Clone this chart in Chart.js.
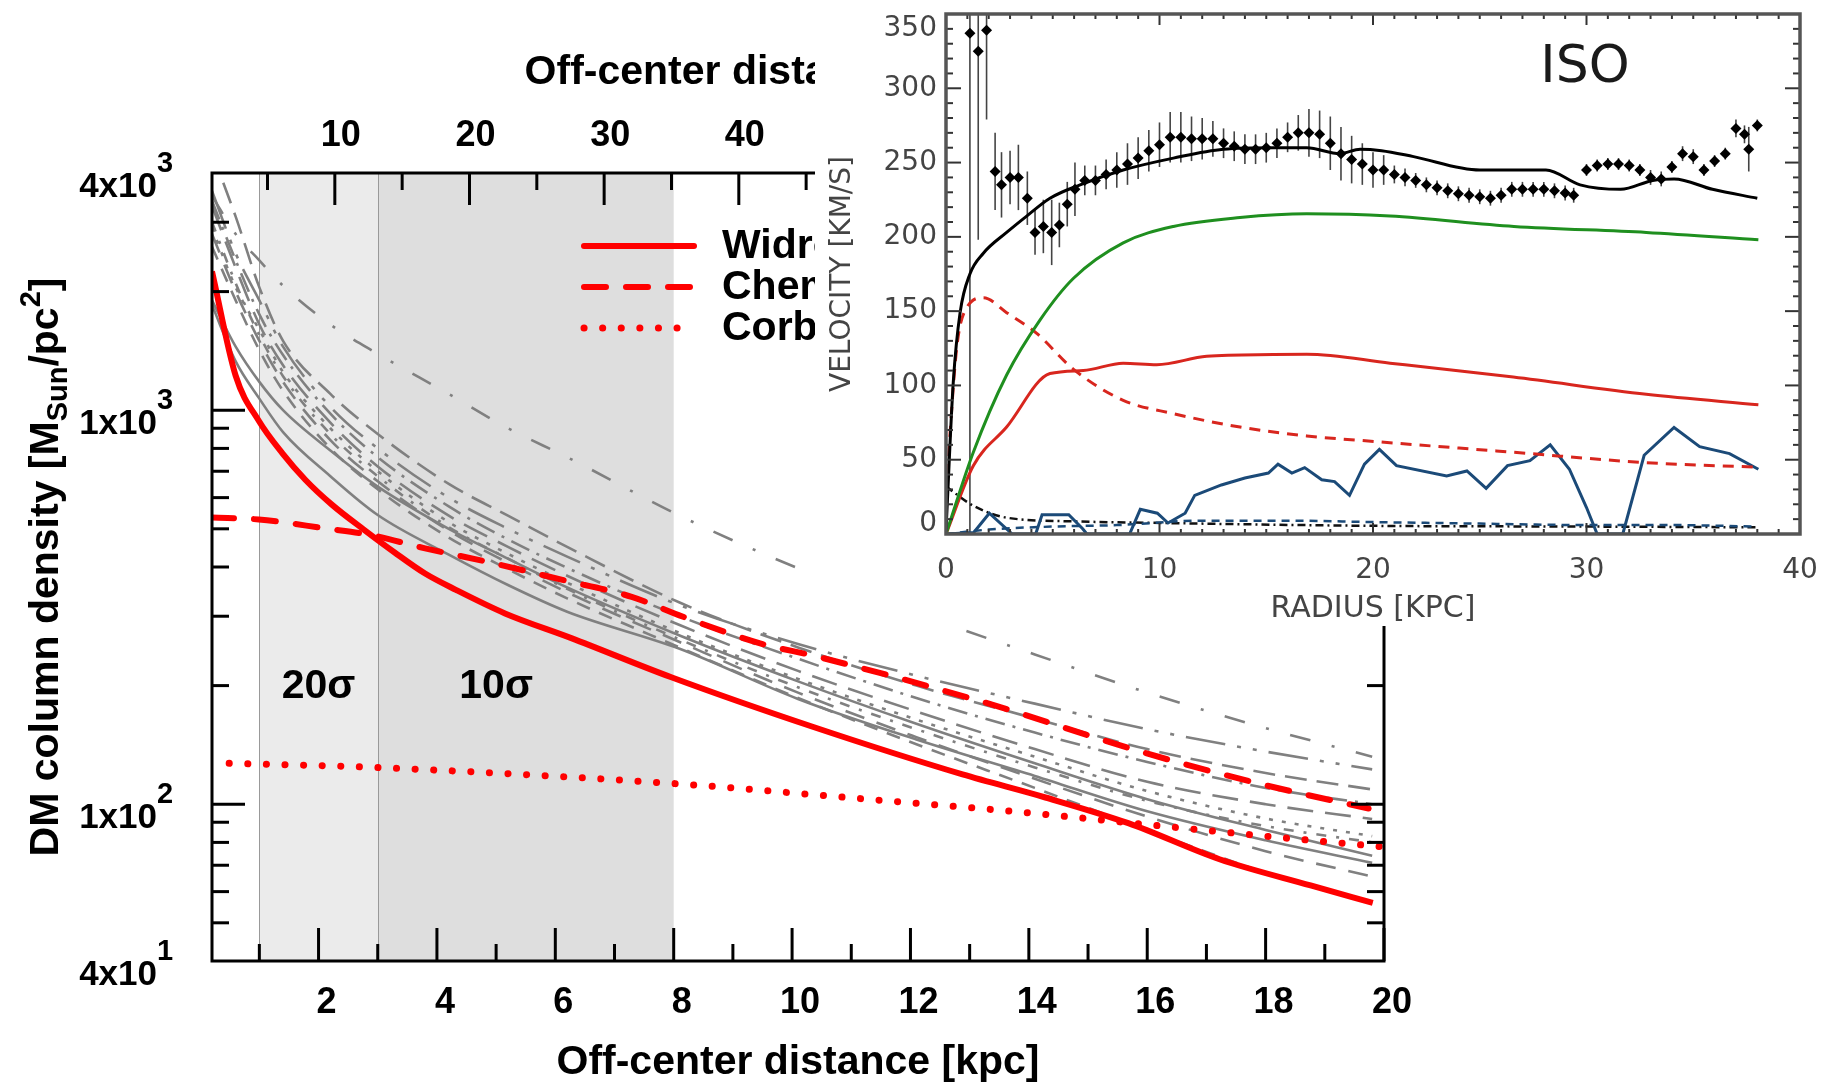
<!DOCTYPE html>
<html>
<head>
<meta charset="utf-8">
<script src="https://cdn.jsdelivr.net/npm/chart.js@4.4.0/dist/chart.umd.min.js"></script>
<style>
html, body { margin: 0; padding: 0; background: #fff; }
#wrap { position: relative; width: 1836px; height: 1087px; overflow: hidden; }
#main { position: absolute; left: 0; top: 0; }
#inset { position: absolute; left: 815px; top: 0; background: #fff; }
</style>
</head>
<body>
<div id="wrap">
<canvas id="main" width="1836" height="1087"></canvas>
<canvas id="inset" width="1021" height="626"></canvas>
</div>
<script>
// ---------- main panel: DM column density ----------
const FONT = "'Liberation Sans', Arial, Helvetica, sans-serif";
const ARCMIN_KPC = 0.2275; // 1 arcmin in kpc

// Widrow (red solid)
const widrowX = [0.2, 0.6, 0.99, 1.39, 1.78, 2.23, 2.77, 3.28, 3.8, 4.32, 5.15, 6.27, 7.96, 10.36, 12.88, 14.28, 15.68, 17.22, 18.76, 19.81];
const widrowY = [2250, 1223, 940, 777, 665, 575, 497, 436, 385, 350, 305, 264, 210, 157, 119, 104, 89.5, 72.5, 62.2, 56.2];
// Chemin (red dashed)
const cheminX = [0.2, 0.99, 2.12, 2.89, 3.8, 4.83, 6.12, 7.29, 8.16, 9.46, 10.42, 13.16, 15.96, 17.92, 19.74];
const cheminY = [534, 528, 501, 482, 446, 413, 371, 336, 299, 256, 237, 183, 135, 112.5, 97.5];
// Corbelli (red dotted)
const corbelliX = [0.49, 2.93, 7.98, 11.06, 13.86, 15.96, 18.06, 20];
const corbelliY = [127, 124, 112.9, 103.6, 95.5, 88.9, 82.8, 77.9];

// grey model curves, all sampled at modelX
const modelX = [0.2, 0.6, 1, 1.4, 2.2, 3, 4.2, 5.2, 6.2, 8.1, 10.1, 12.1, 14.1, 16, 18, 19.8];
const grayCurves = [
  [3500, 2800, 2400, 2070, 1650, 1390, 1100, 900, 760, 540, 397, 305, 240, 192, 156, 132],
  [4500, 3100, 2050, 1500, 1100, 870, 650, 540, 450, 325, 250, 200, 165, 138, 120, 109],
  [3600, 2500, 1900, 1450, 1020, 800, 600, 500, 425, 320, 255, 212, 180, 155, 136, 122.6],
  [3400, 2400, 1750, 1380, 980, 760, 570, 470, 398, 300, 234, 186, 152, 128, 110, 100],
  [3300, 2300, 1650, 1300, 930, 720, 540, 450, 380, 285, 218, 172, 138, 114, 100, 91.7],
  [2900, 2050, 1600, 1250, 900, 700, 520, 432, 365, 272, 208, 164, 132, 108, 92, 83],
  [3000, 2100, 1550, 1220, 870, 680, 505, 420, 352, 262, 198, 155, 124, 102, 88, 80],
  [1900, 1450, 1180, 1000, 790, 640, 500, 420, 355, 268, 205, 160, 127, 103, 86, 74],
  [1850, 1330, 1070, 880, 680, 542, 430, 360, 308, 248, 185, 146, 118, 96, 81, 71],
  [2800, 2000, 1500, 1180, 840, 660, 495, 410, 345, 258, 192, 148, 116, 93, 76, 65.5],
  [2600, 1900, 1420, 1120, 800, 630, 475, 395, 333, 250, 186, 142, 110, 86, 67, 56]
];
const grayDashes = [
  [21, 22, 3, 22], [22, 10], [40, 12, 4, 12, 4, 12], [20, 8, 3, 8], [26, 12],
  [4, 9], [10, 10, 3, 10], [], [], [20, 13], [14, 10]
];

const sigmaBands = [
  { from: 1, to: 3, label: '20σ', labelAt: 2 },
  { from: 3, to: 8, label: '10σ', labelAt: 5 }
];
const bandColors = ['#ebebeb', '#dedede'];

const xTickLabels = [2, 4, 6, 8, 10, 12, 14, 16, 18, 20];
const arcminLabels = [10, 20, 30, 40, 50, 60, 70, 80];
const yLabelValues = [4000, 1000, 100, 40];
const yTickValues = [50, 60, 70, 80, 90, 100, 200, 300, 400, 500, 600, 700, 800, 900, 1000, 2000, 3000];

const legendItems = [
  { text: 'Widrow & Dubinski (2005)', dash: [] },
  { text: 'Chemin et al. (2009)', dash: [22, 20] },
  { text: 'Corbelli et al. (2010)', dash: [0.1, 18.5] }
];

function pts(xs, ys) {
  return xs.map((x, i) => ({ x: x, y: ys[i] }));
}

const datasets = [];
grayCurves.forEach((c, i) => {
  datasets.push({
    data: pts(modelX, c),
    borderColor: '#808080',
    borderWidth: 2.6,
    borderDash: grayDashes[i],
    cubicInterpolationMode: 'monotone',
    order: 1
  });
});
datasets.push({ data: pts(widrowX, widrowY), borderColor: '#ff0000', borderWidth: 6, cubicInterpolationMode: 'monotone', order: 0 });
datasets.push({ data: pts(cheminX, cheminY), borderColor: '#ff0000', borderWidth: 6, borderDash: [22, 20], borderCapStyle: 'round', cubicInterpolationMode: 'monotone', order: 0 });
datasets.push({ data: pts(corbelliX, corbelliY), borderColor: '#ff0000', borderWidth: 7, borderDash: [0.1, 18.5], borderCapStyle: 'round', cubicInterpolationMode: 'monotone', order: 0 });

function line(ctx, x1, y1, x2, y2) {
  ctx.beginPath();
  ctx.moveTo(x1, y1);
  ctx.lineTo(x2, y2);
  ctx.stroke();
}

const mainDecor = {
  id: 'mainDecor',
  beforeDatasetsDraw(chart) {
    const { ctx, chartArea: a } = chart;
    const x = chart.scales.x;
    ctx.save();
    sigmaBands.forEach((b, i) => {
      const x0 = x.getPixelForValue(b.from), x1 = x.getPixelForValue(b.to);
      ctx.fillStyle = bandColors[i];
      ctx.fillRect(x0, a.top, x1 - x0, a.bottom - a.top);
    });
    ctx.strokeStyle = '#999';
    ctx.lineWidth = 1;
    sigmaBands.forEach(b => {
      const px = Math.round(x.getPixelForValue(b.from)) + 0.5;
      line(ctx, px, a.top, px, a.bottom);
    });
    ctx.fillStyle = '#000';
    ctx.font = 'bold 41px ' + FONT;
    ctx.textAlign = 'center';
    ctx.textBaseline = 'middle';
    sigmaBands.forEach(b => {
      ctx.fillText(b.label, x.getPixelForValue(b.labelAt), 687);
    });
    ctx.restore();
  },
  afterDatasetsDraw(chart) {
    const { ctx, chartArea: a } = chart;
    const x = chart.scales.x, y = chart.scales.y;
    ctx.save();
    ctx.strokeStyle = '#000';
    ctx.fillStyle = '#000';

    // ticks, pointing inwards
    ctx.lineWidth = 3;
    for (let k = 1; k <= 20; k++) {
      const px = x.getPixelForValue(k);
      const len = k % 2 === 0 ? 33 : 17;
      line(ctx, px, a.bottom, px, a.bottom - len);
    }
    for (let m = 5; m * ARCMIN_KPC <= 20; m += 5) {
      const px = x.getPixelForValue(m * ARCMIN_KPC);
      if (px <= a.left + 2) continue;
      const len = m % 10 === 0 ? 32 : 17;
      line(ctx, px, a.top, px, a.top + len);
    }
    yTickValues.forEach(v => {
      const py = y.getPixelForValue(v);
      const len = (v === 100 || v === 1000) ? 33 : 17;
      line(ctx, a.left, py, a.left + len, py);
      line(ctx, a.right, py, a.right - len, py);
    });

    // frame
    ctx.lineWidth = 3;
    ctx.strokeRect(a.left, a.top, a.right - a.left, a.bottom - a.top);

    // bottom tick labels
    ctx.font = 'bold 36px ' + FONT;
    ctx.textAlign = 'center';
    ctx.textBaseline = 'middle';
    xTickLabels.forEach(k => {
      ctx.fillText(String(k), x.getPixelForValue(k) + 8, a.bottom + 42);
    });
    // top tick labels (arcmin)
    arcminLabels.forEach(m => {
      ctx.fillText(String(m), x.getPixelForValue(m * ARCMIN_KPC) + 6, a.top - 37);
    });

    // y tick labels with exponents
    yLabelValues.forEach(v => {
      const py = y.getPixelForValue(v);
      const e = Math.floor(Math.log10(v) + 1e-9);
      const m = Math.round(v / Math.pow(10, e));
      ctx.textAlign = 'right';
      ctx.textBaseline = 'alphabetic';
      ctx.font = 'bold 35px ' + FONT;
      ctx.fillText(m + 'x10', a.left - 55, py + 24);
      ctx.textAlign = 'left';
      ctx.font = 'bold 29px ' + FONT;
      ctx.fillText(String(e), a.left - 55, py - 1);
    });

    // axis titles
    const cx = (a.left + a.right) / 2;
    ctx.font = 'bold 41px ' + FONT;
    ctx.textAlign = 'center';
    ctx.textBaseline = 'middle';
    ctx.fillText('Off-center distance [kpc]', cx, a.bottom + 102);
    ctx.fillText('Off-center distance [arcmin]', cx, a.top - 100);

    // y title with sub/superscripts
    const parts = [
      { t: 'DM column density [M', s: 41, dy: 0 },
      { t: 'Sun', s: 29, dy: 9 },
      { t: '/pc', s: 41, dy: 0 },
      { t: '2', s: 29, dy: -18 },
      { t: ']', s: 41, dy: 0 }
    ];
    let total = 0;
    parts.forEach(p => { ctx.font = 'bold ' + p.s + 'px ' + FONT; p.w = ctx.measureText(p.t).width; total += p.w; });
    ctx.save();
    ctx.translate(58, (a.top + a.bottom) / 2);
    ctx.rotate(-Math.PI / 2);
    ctx.textAlign = 'left';
    ctx.textBaseline = 'alphabetic';
    let pos = -total / 2;
    parts.forEach(p => {
      ctx.font = 'bold ' + p.s + 'px ' + FONT;
      ctx.fillText(p.t, pos, p.dy);
      pos += p.w;
    });
    ctx.restore();

    // legend
    legendItems.forEach((it, i) => {
      const ly = 246 + 41 * i;
      ctx.save();
      ctx.strokeStyle = '#ff0000';
      ctx.lineWidth = i === 2 ? 7 : 6;
      ctx.lineCap = 'round';
      ctx.setLineDash(it.dash);
      line(ctx, 584, ly, 694, ly);
      ctx.restore();
      ctx.font = 'bold 41px ' + FONT;
      ctx.textAlign = 'left';
      ctx.textBaseline = 'middle';
      ctx.fillText(it.text, 722, ly + 1);
    });
    ctx.restore();
  }
};

new Chart(document.getElementById('main'), {
  type: 'line',
  data: { datasets: datasets },
  options: {
    responsive: false,
    animation: false,
    devicePixelRatio: 1,
    layout: { padding: { left: 212, right: 452, top: 173, bottom: 126 } },
    plugins: { legend: { display: false }, tooltip: { enabled: false } },
    elements: { point: { radius: 0 }, line: { fill: false } },
    scales: {
      x: { type: 'linear', min: 0.2, max: 20, display: false },
      y: { type: 'logarithmic', min: 40, max: 4000, display: false }
    }
  },
  plugins: [mainDecor]
});

// ---------- inset: rotation curve (ISO fit) ----------
const IFONT = "'DejaVu Sans', sans-serif";

const totalR = [0, 0.34, 0.66, 1.12, 1.75, 2.84, 3.78, 4.87, 6.28, 8.3, 10.65, 12.99, 15.33, 16.9, 18.45, 19.4, 20.4, 21.9, 25, 28.1, 29.7, 31.6, 33.1, 34.1, 35.9, 38];
const totalV = [2, 102, 149, 175, 189, 203, 214, 226, 235, 245, 253, 259, 260, 260, 256, 259, 258, 254, 245, 245, 235, 232, 238, 239, 232, 226];
const haloR = [0, 1.28, 2.84, 4.4, 5.96, 8.3, 10.65, 13.77, 16.9, 20.8, 26.6, 32.8, 38.05];
const haloV = [0, 55, 107, 144, 172, 196, 207, 213, 215.5, 214, 207, 203, 198];
const diskR = [0, 1.28, 2.84, 4.87, 6.43, 8.3, 9.87, 12.21, 15.33, 16.9, 20.8, 26.57, 32.8, 38.05];
const diskV = [0, 46, 72, 108, 110, 115, 114, 119.6, 120.8, 121, 115, 105.6, 94, 87];
const bulgeR = [0, 0.5, 1.0, 1.75, 2.84, 4.25, 5.96, 8.3, 10.65, 13.77, 16.9, 20.3, 26.6, 32.8, 38];
const bulgeV = [27, 125, 153, 159, 149, 135, 111, 90, 81, 72, 66, 62, 55, 48, 45];
const gasR = [0, 1.3, 2.03, 3.1, 4.2, 4.5, 5.75, 6.4, 6.6, 8.6, 9.1, 9.9, 10.4, 11.2, 11.65, 12.9, 14.0, 15.1, 15.55, 16.2, 16.8, 17.6, 18.2, 18.9, 19.6, 20.3, 21.1, 23.45, 24.4, 25.3, 26.3, 27.35, 28.3, 29.2, 30.0, 30.5, 31.7, 32.7, 34.1, 35.3, 36.7, 38.05];
const gasV = [0, 1, 14, 0, 0, 13, 13, 3.5, 0, 0, 16.6, 14, 7.4, 14, 26, 33, 37.7, 41, 47, 41, 44.7, 36.5, 35.3, 26, 47, 57, 46, 39, 42.4, 30.7, 46, 49.4, 60, 43.6, 17.8, 0, 0, 53, 71.7, 58.8, 54.1, 43.6];
const gasDashR = [0, 2, 5, 8, 12, 16, 20, 25, 30, 34, 38];
const gasDashV = [0, 3, 5, 6, 9, 9, 8, 7, 6, 6, 5];
const starsR = [0, 1.28, 2.84, 6, 10.6, 20, 30, 38];
const starsV = [32, 19, 11, 8.5, 7.3, 5.5, 5, 4.5];

const obsR = [1.12, 1.51, 1.9, 2.3, 2.6, 3.0, 3.39, 3.81, 4.17, 4.56, 4.95, 5.31, 5.68, 6.04,
  6.5, 7.0, 7.5, 8.0, 8.5, 9.0, 9.5, 10.0, 10.5, 11.0, 11.5, 12.0, 12.5, 13.0, 13.5, 14.0, 14.5, 15.0,
  15.5, 16.0, 16.5, 17.0, 17.5, 18.0, 18.5, 19.0, 19.5, 20.0, 20.5, 21.0, 21.5, 22.0, 22.5, 23.0, 23.5,
  24.0, 24.5, 25.0, 25.5, 26.0, 26.5, 27.0, 27.5, 28.0, 28.5, 29.0, 29.4,
  30.0, 30.5, 31.0, 31.5, 32.0, 32.5, 33.0, 33.5, 34.0, 34.5, 35.0, 35.5, 36.0, 36.5, 37.0, 37.4, 37.6, 38.0];
const obsV = [337, 325, 339, 244, 235, 240, 240, 226, 203, 207, 203, 208, 222, 232,
  238, 238, 242, 245, 249, 253, 258, 262, 267, 267, 266, 266, 266, 263, 261, 259, 259, 260,
  263, 267, 270, 270, 269, 263, 256, 252, 249, 245, 245, 242, 240, 238, 235, 233, 231,
  229, 228, 227, 226, 228, 232, 232, 232, 232, 231, 229.5, 228,
  245, 248, 249, 249, 248, 245, 240, 239, 247, 256, 254, 245, 251, 256, 273, 269, 259, 275];
const obsErr = [340, 127, 60, 26, 22, 18, 22, 18, 15, 18, 22, 15, 15, 18,
  10, 10, 10, 12, 14, 14, 14, 15, 17, 17, 15, 14, 12, 10, 10, 10, 10, 10,
  10, 10, 12, 16, 16, 18, 18, 16, 14, 12, 10, 6, 6, 5, 5, 5, 5,
  5, 5, 5, 5, 5, 5, 5, 5, 5, 5, 5, 5,
  4, 4, 4, 4, 4, 4, 5, 5, 4, 5, 5, 4, 4, 4, 6, 6, 15, 4];

const radiusLabels = [0, 10, 20, 30, 40];
const velocityLabels = [0, 50, 100, 150, 200, 250, 300, 350];

const insetDecor = {
  id: 'insetDecor',
  beforeDatasetsDraw(chart) {
    const { ctx, chartArea: a } = chart;
    const x = chart.scales.x, y = chart.scales.y;
    ctx.save();
    ctx.beginPath();
    ctx.rect(a.left, a.top, a.right - a.left, a.bottom - a.top);
    ctx.clip();
    ctx.strokeStyle = '#444';
    ctx.lineWidth = 1.6;
    obsR.forEach((r, i) => {
      const px = x.getPixelForValue(r);
      line(ctx, px, y.getPixelForValue(obsV[i] - obsErr[i]), px, y.getPixelForValue(obsV[i] + obsErr[i]));
    });
    ctx.restore();
  },
  afterDatasetsDraw(chart) {
    const { ctx, chartArea: a } = chart;
    const x = chart.scales.x, y = chart.scales.y;
    ctx.save();
    ctx.strokeStyle = '#333';
    ctx.lineWidth = 2;
    for (let r = 1; r < 40; r++) {
      const px = x.getPixelForValue(r);
      const len = r % 10 === 0 ? 11 : 5;
      line(ctx, px, a.top, px, a.top + len);
      line(ctx, px, a.bottom, px, a.bottom - len);
    }
    for (let v = 10; v < 350; v += 10) {
      const py = y.getPixelForValue(v);
      const len = v % 50 === 0 ? 15 : 7;
      line(ctx, a.left, py, a.left + len, py);
      line(ctx, a.right, py, a.right - len, py);
    }
    ctx.strokeStyle = '#555';
    ctx.lineWidth = 3.5;
    ctx.strokeRect(a.left, a.top, a.right - a.left, a.bottom - a.top);

    ctx.fillStyle = '#444';
    ctx.font = '28px ' + IFONT;
    ctx.textAlign = 'right';
    ctx.textBaseline = 'middle';
    velocityLabels.forEach(v => {
      let py = y.getPixelForValue(v);
      py = Math.min(Math.max(py, a.top + 15), a.bottom - 10);
      ctx.fillText(String(v), a.left - 9, py);
    });
    ctx.textAlign = 'center';
    radiusLabels.forEach(r => {
      ctx.fillText(String(r), x.getPixelForValue(r), a.bottom + 37);
    });
    ctx.font = '30px ' + IFONT;
    ctx.fillText('RADIUS [KPC]', (a.left + a.right) / 2, a.bottom + 75);
    ctx.save();
    ctx.translate(28, (a.top + a.bottom) / 2);
    ctx.rotate(-Math.PI / 2);
    ctx.font = '28px ' + IFONT;
    ctx.fillText('VELOCITY [KM/S]', 0, 0);
    ctx.restore();
    ctx.fillStyle = '#1a1a1a';
    ctx.font = '52px ' + IFONT;
    ctx.fillText('ISO', 770, 68);
    ctx.restore();
  }
};

new Chart(document.getElementById('inset'), {
  type: 'line',
  data: {
    datasets: [
      { data: pts(obsR, obsV), showLine: false, pointStyle: 'rectRot', pointRadius: 5.5, pointBackgroundColor: '#000', pointBorderWidth: 0, order: 0 },
      { data: pts(totalR, totalV), borderColor: '#000', borderWidth: 3, cubicInterpolationMode: 'monotone', order: 1 },
      { data: pts(haloR, haloV), borderColor: '#1f8f1f', borderWidth: 3, cubicInterpolationMode: 'monotone', order: 1 },
      { data: pts(diskR, diskV), borderColor: '#d8261e', borderWidth: 3, cubicInterpolationMode: 'monotone', order: 1 },
      { data: pts(bulgeR, bulgeV), borderColor: '#d8261e', borderWidth: 3, borderDash: [11, 8], cubicInterpolationMode: 'monotone', order: 1 },
      { data: pts(gasR, gasV), borderColor: '#1b4a78', borderWidth: 3, order: 1 },
      { data: pts(gasDashR, gasDashV), borderColor: '#1b4a78', borderWidth: 2.5, borderDash: [8, 6], cubicInterpolationMode: 'monotone', order: 1 },
      { data: pts(starsR, starsV), borderColor: '#111', borderWidth: 2.5, borderDash: [8, 4, 2, 4], cubicInterpolationMode: 'monotone', order: 1 }
    ]
  },
  options: {
    responsive: false,
    animation: false,
    devicePixelRatio: 1,
    layout: { padding: { left: 131, right: 36, top: 14, bottom: 92 } },
    plugins: { legend: { display: false }, tooltip: { enabled: false } },
    elements: { point: { radius: 0 }, line: { fill: false } },
    scales: {
      x: { type: 'linear', min: 0, max: 40, display: false },
      y: { type: 'linear', min: 0, max: 350, display: false }
    }
  },
  plugins: [insetDecor]
});
</script>
</body>
</html>
